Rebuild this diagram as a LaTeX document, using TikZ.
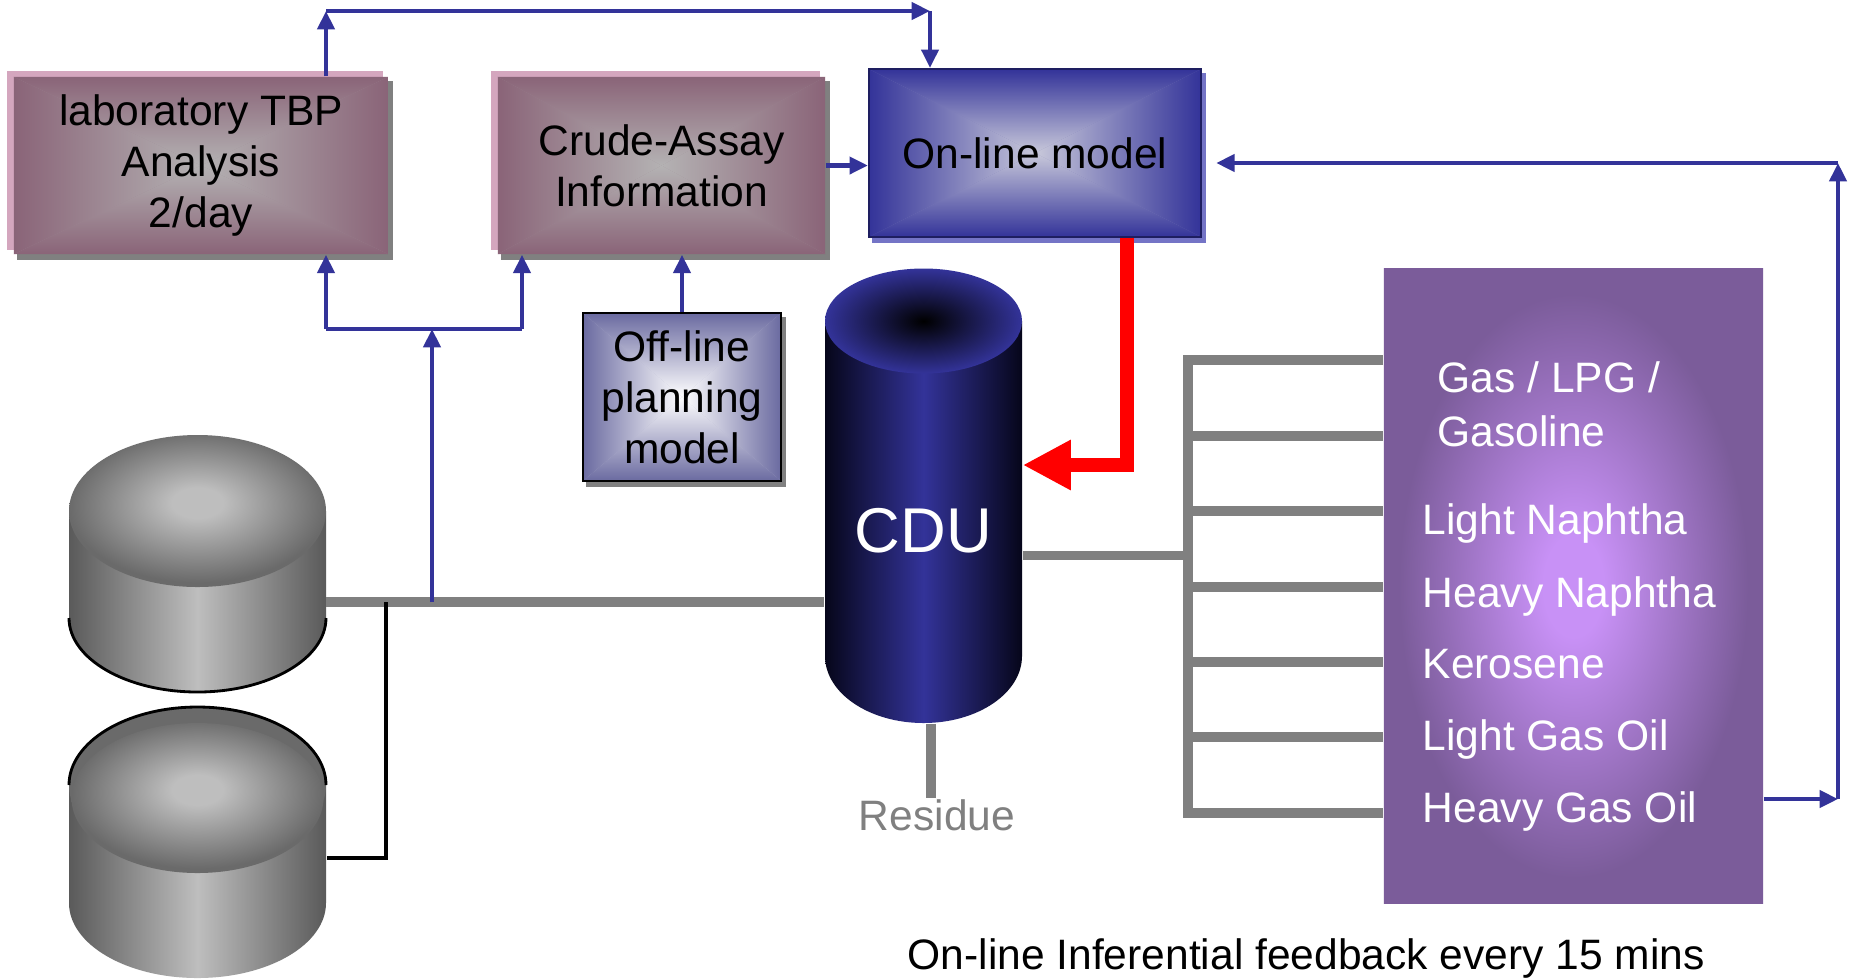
\documentclass[tikz,border=0pt]{standalone}
\usepackage{fontspec}
\setmainfont{Liberation Sans}
\usetikzlibrary{arrows.meta,backgrounds}

\definecolor{flowblue}{HTML}{333399}
\definecolor{pipegray}{HTML}{808080}
\definecolor{boxshadow}{HTML}{808080}
\definecolor{labedge}{HTML}{8A6478}
\definecolor{labmid}{HTML}{B4B2B3}
\definecolor{labpink}{HTML}{D4A6BE}
\definecolor{onlineedge}{HTML}{333399}
\definecolor{onlinemid}{HTML}{C8C8DA}
\definecolor{onlineborder}{HTML}{1E1E60}
\definecolor{onlineshadow}{HTML}{7474C6}
\definecolor{offedge}{HTML}{6A6AA0}
\definecolor{cdublue}{HTML}{333399}
\definecolor{cdudark}{HTML}{06061A}
\definecolor{prodedge}{HTML}{7B5C9A}
\definecolor{prodmid}{HTML}{C891F6}
\definecolor{tankdark}{HTML}{5A5A5A}
\definecolor{tankedge}{HTML}{6A6A6A}
\definecolor{tanklight}{HTML}{BEBEBE}

\pgfdeclareradialshading{tankdome}{\pgfpoint{0bp}{3bp}}{%
    color(0bp)=(tanklight); color(5bp)=(tanklight); color(25bp)=(tankedge); color(50bp)=(tankedge)}
\pgfdeclareradialshading{prodglow}{\pgfpoint{0bp}{0bp}}{%
    color(0bp)=(prodmid); color(4bp)=(prodmid); color(23bp)=(prodedge); color(50bp)=(prodedge)}

\tikzset{
    % rectangle shaded from the edges in towards the centre
    xfill/.style 2 args={
        fill=#1!50!#2,
        path picture={
            \coordinate (xc) at (path picture bounding box.center);
            \shade[top color=#1, bottom color=#2]
                (path picture bounding box.north west) -- (path picture bounding box.north east) -- (xc) -- cycle;
            \shade[bottom color=#1, top color=#2]
                (path picture bounding box.south west) -- (path picture bounding box.south east) -- (xc) -- cycle;
            \shade[left color=#1, right color=#2]
                (path picture bounding box.north west) -- (path picture bounding box.south west) -- (xc) -- cycle;
            \shade[right color=#1, left color=#2]
                (path picture bounding box.north east) -- (path picture bounding box.south east) -- (xc) -- cycle;
        }
    },
    txt/.style={font=\fontsize{12.1}{14.5}\selectfont},
    boxtext/.style={txt, inner sep=0pt, align=center},
    labbox/.style={boxtext, xfill={labedge}{labmid}},
    onlinebox/.style={boxtext, xfill={onlineedge}{onlinemid}, draw=onlineborder, line width=0.6pt},
    offbox/.style={boxtext, xfill={offedge}{white}, draw=black, line width=0.5pt},
    prodbox/.style={inner sep=0pt, shading=prodglow, shade},
    cut/.style={txt, inner sep=0pt, text=white},
    pipe/.style={pipegray, line width=2.6pt},
    flowline/.style={flowblue, line width=1.2pt},
    flow/.style={flowline, -{Triangle[length=5.2pt,width=4.8pt]}},
    hot/.style={red, line width=4pt, -{Triangle[length=13.7pt,width=13.4pt]}},
}

\begin{document}
\begin{tikzpicture}[x=0.01cm, y=-0.01cm]

    \useasboundingbox (0,0) rectangle (1849,978);

    % crude tanks
    \shade[left color=tankdark, right color=tankdark, middle color=tanklight]
        (69,511) -- (69,618) arc[start angle=180, end angle=0, x radius=128.5, y radius=74] -- (326,511) -- cycle;
    \shade[shading=tankdome] (197.5,511) ellipse[x radius=128.5, y radius=76];
    \draw[line width=0.8pt] (69,618) arc[start angle=180, end angle=0, x radius=128.5, y radius=74];

    \shade[left color=tankdark, right color=tankdark, middle color=tanklight]
        (69,785) -- (69,903) arc[start angle=180, end angle=0, x radius=128.5, y radius=75] -- (326,785) -- cycle;
    \fill[tankedge] (197.5,785) ellipse[x radius=128.5, y radius=78];
    \shade[shading=tankdome] (197.5,798) ellipse[x radius=126, y radius=75];
    \draw[line width=0.8pt] (69,785) arc[start angle=180, end angle=360, x radius=128.5, y radius=78];

    \node[minimum width=2.57cm, minimum height=2.58cm, inner sep=0pt] (tank1) at (197.5,564) {};
    \node[minimum width=2.57cm, minimum height=2.72cm, inner sep=0pt] (tank2) at (197.5,842) {};

    % distillation column
    \shade[left color=cdudark, right color=cdudark, middle color=cdublue]
        (825,321) -- (825,656) arc[start angle=180, end angle=0, x radius=98.5, y radius=67] -- (1022,321) -- cycle;
    \shade[inner color=black, outer color=cdublue] (923.5,321) ellipse[x radius=98.5, y radius=52.5];
    \node[inner sep=0pt, minimum width=1.97cm, minimum height=3.84cm, text=white,
        font=\fontsize{18}{21}\selectfont] (cdu) at (923.5,531) {CDU};

    % information boxes
    \node[labbox, minimum width=3.74cm, minimum height=1.77cm] (lab) at (201,165.5) {laboratory TBP\\Analysis\\2/day};
    \node[labbox, minimum width=3.27cm, minimum height=1.77cm] (crude) at (661.5,165.5) {Crude-Assay\\Information};
    \node[onlinebox, minimum width=3.32cm, minimum height=1.68cm] (online) at (1035,153) {On-line model};
    \node[offbox, minimum width=1.98cm, minimum height=1.68cm] (offline) at (682,397) {Off-line\\planning\\model};

    % products
    \node[prodbox, minimum width=3.79cm, minimum height=6.34cm] (prod) at (1573.5,586) {};
    \node[cut, anchor=base west] (gas) at (1437,392) {Gas / LPG /};
    \node[cut, anchor=base west] (gasoline) at (1437,446) {Gasoline};
    \foreach \name/\txt/\y in {lnaph/Light Naphtha/534, hnaph/Heavy Naphtha/607, kero/Kerosene/678,
                               lgo/Light Gas Oil/750, hgo/Heavy Gas Oil/822}
        \node[cut, anchor=base west] (\name) at (1422,\y) {\txt};

    \begin{scope}[on background layer]
        \fill[white] (0,0) rectangle (1849,978);
        \foreach \b in {lab,crude,offline}
            \fill[boxshadow] ([shift={(4,5)}]\b.north west) rectangle ([shift={(4,5)}]\b.south east);
        \fill[onlineshadow] ([shift={(4,5)}]online.north west) rectangle ([shift={(4,5)}]online.south east);
        \foreach \b in {lab,crude}
            \fill[labpink] ([shift={(-6,-5)}]\b.north west) rectangle ([shift={(-6,-5)}]\b.south east);
    \end{scope}

    % feed line and tank 2 tie-in
    \coordinate (feed) at (326,602);
    \draw[pipe] (feed) -- (feed -| cdu.west);
    \coordinate (drain) at (386,858);
    \draw[line width=0.9pt] (drain |- feed) -- (drain) -- (drain -| tank2.east);

    % side draws
    \coordinate (hdr) at (1188,555.5);
    \coordinate (hdrtop) at (1188,360);
    \coordinate (hdrbot) at (1188,813);
    \draw[pipe] (cdu.east |- hdr) -- (hdr);
    \draw[pipe] (hdrtop -| prod.west) -- (hdrtop) -- (hdrbot) -- (hdrbot -| prod.west);
    \foreach \y in {436,511,587,662,737} {
        \coordinate (tap) at (1188,\y);
        \draw[pipe] (tap) -- (tap -| prod.west);
    }

    \node[txt, anchor=base, text=pipegray] (residue) at (937,830) {Residue};
    \coordinate (res) at (931,798);
    \draw[pipe] (res |- cdu.south) -- (res);

    % sampling and model updates
    \coordinate (sample) at (432,602);
    \coordinate (forkL) at (326,329);
    \coordinate (forkR) at (522,329);
    \draw[flow] (sample) -- (sample |- forkL);
    \draw[flowline] (forkL) -- (forkR);
    \draw[flow] (forkL) -- (forkL |- lab.south);
    \draw[flow] (forkR) -- (forkR |- crude.south);

    \coordinate (topL) at (326,11);
    \coordinate (topR) at (930,11);
    \draw[flow] (topL |- lab.north) -- (topL);
    \draw[flow] (topL) -- (topR);
    \draw[flow] (topR) -- (topR |- online.north);

    \draw[flow] (crude.east) -- (crude.east -| online.west);
    \draw[flow] (offline.north) -- (offline.north |- crude.south);

    % feedback from the products
    \coordinate (fbL) at (1838,799);
    \coordinate (fbT) at (1838,163);
    \draw[flow] (fbL -| prod.east) -- (fbL);
    \draw[flow] (fbL) -- (fbT);
    \draw[flow, shorten >=4pt] (fbT) -- (fbT -| online.east);

    % model to column
    \coordinate (bend) at (1127,465);
    \draw[hot] (bend |- online.south) -- (bend) -- (bend -| cdu.east);

    \node[txt, inner sep=0pt, anchor=base west] (note) at (907,969)
        {On-line Inferential feedback every 15 mins};

\end{tikzpicture}
\end{document}
